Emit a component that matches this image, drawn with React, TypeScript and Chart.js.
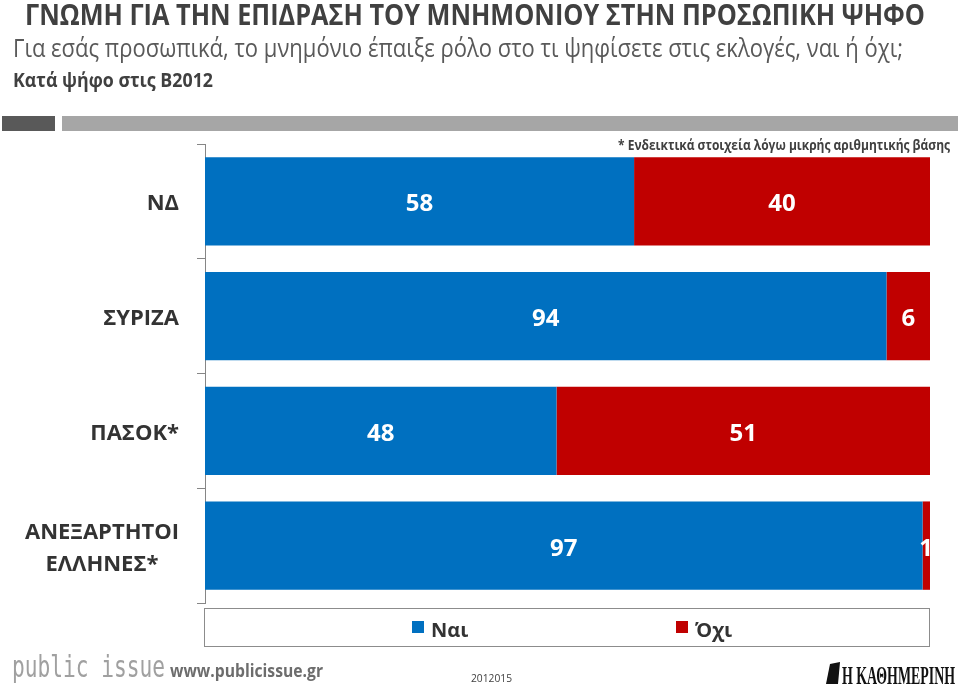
import React, { useEffect, useRef } from "react";
import { Chart, registerables } from "chart.js";

Chart.register(...registerables);

const categories: string[][] = [["ΝΔ"], ["ΣΥΡΙΖΑ"], ["ΠΑΣΟΚ*"], ["ΑΝΕΞΑΡΤΗΤΟΙ", "ΕΛΛΗΝΕΣ*"]];
const yesValues = [58, 94, 48, 97];
const noValues = [40, 6, 51, 1];
const seriesNames = ["Ναι", "Όχι"];
const seriesColors = ["#0070C0", "#C00000"];

const titleText = "ΓΝΩΜΗ ΓΙΑ ΤΗΝ ΕΠΙΔΡΑΣΗ ΤΟΥ ΜΝΗΜΟΝΙΟΥ ΣΤΗΝ ΠΡΟΣΩΠΙΚΗ ΨΗΦΟ";
const subtitleText = "Για εσάς προσωπικά, το μνημόνιο έπαιξε ρόλο στο τι ψηφίσετε στις εκλογές, ναι ή όχι;";
const subsetText = "Κατά ψήφο στις Β2012";
const noteText = "* Ενδεικτικά στοιχεία λόγω μικρής αριθμητικής βάσης";
const siteText = "www.publicissue.gr";
const codeText = "2012015";
const logoText = "public issue";
const paperText = "Η ΚΑΘΗΜΕΡΙΝΗ";

const FONT = "'Open Sans', 'Noto Sans', sans-serif";

const totals = yesValues.map((v, i) => v + noValues[i]);
const yesShare = yesValues.map((v, i) => (v / totals[i]) * 100);
const noShare = noValues.map((v, i) => (v / totals[i]) * 100);

function fitText(
  ctx: CanvasRenderingContext2D,
  text: string,
  x: number,
  y: number,
  font: string,
  color: string,
  width: number | null,
  align: "left" | "right" | "center" = "left"
) {
  ctx.save();
  ctx.font = font;
  ctx.fillStyle = color;
  ctx.textBaseline = "alphabetic";
  const w = ctx.measureText(text).width;
  const sx = width ? width / w : 1;
  const drawnW = w * sx;
  let left = x;
  if (align === "right") left = x - drawnW;
  if (align === "center") left = x - drawnW / 2;
  ctx.translate(left, y);
  ctx.scale(sx, 1);
  ctx.textAlign = "left";
  ctx.fillText(text, 0, 0);
  ctx.restore();
}

const decorPlugin = {
  id: "decor",
  beforeDraw(chart: any) {
    const ctx: CanvasRenderingContext2D = chart.ctx;
    ctx.save();
    ctx.fillStyle = "#ffffff";
    ctx.fillRect(0, 0, chart.width, chart.height);
    // header
    fitText(ctx, titleText, 25, 25, `bold 28px ${FONT}`, "#404040", 900);
    fitText(ctx, subtitleText, 13, 57, `26px ${FONT}`, "#595959", 890);
    fitText(ctx, subsetText, 13, 87, `bold 20px ${FONT}`, "#404040", 200);
    // gray bars
    ctx.fillStyle = "#595959";
    ctx.fillRect(2, 116, 53, 15);
    ctx.fillStyle = "#a6a6a6";
    ctx.fillRect(62, 116, 896, 15);
    // note
    fitText(ctx, noteText, 950, 150, `bold 15px ${FONT}`, "#404040", 332, "right");
    ctx.restore();
  },
  afterDraw(chart: any) {
    const ctx: CanvasRenderingContext2D = chart.ctx;
    const yScale = chart.scales.y;
    const xScale = chart.scales.x;
    ctx.save();
    // category labels
    categories.forEach((lines, i) => {
      const cy = yScale.getPixelForValue(i);
      const lh = 32;
      const start = cy - ((lines.length - 1) * lh) / 2;
      ctx.font = `bold 22px ${FONT}`;
      const maxW = Math.max(...lines.map((l) => ctx.measureText(l).width));
      const cx = 179 - maxW / 2;
      lines.forEach((l, j) => {
        fitText(ctx, l, cx, start + j * lh + 9, `bold 22px ${FONT}`, "#333333", null, "center");
      });
    });
    // data labels
    chart.data.datasets.forEach((ds: any, di: number) => {
      const meta = chart.getDatasetMeta(di);
      const raw = di === 0 ? yesValues : noValues;
      meta.data.forEach((bar: any, i: number) => {
        const left = Math.min(bar.x, bar.base);
        const right = Math.max(bar.x, bar.base);
        let cx = (left + right) / 2;
        if (right - left < 12) cx = right - 4;
        fitText(ctx, String(raw[i]), cx, bar.y + 10, `bold 24px ${FONT}`, "#ffffff", null, "center");
      });
    });
    // legend box
    const lx = xScale.left - 0.5;
    const lw = xScale.right - xScale.left;
    ctx.strokeStyle = "#8c8c8c";
    ctx.lineWidth = 1;
    ctx.strokeRect(lx, 608.5, lw, 38);
    const legendX = [412, 676];
    seriesNames.forEach((name, i) => {
      ctx.fillStyle = seriesColors[i];
      ctx.fillRect(legendX[i], 621, 12, 12);
      fitText(ctx, name, legendX[i] + 19, 637, `bold 20px ${FONT}`, "#333333", null);
    });
    // footer
    fitText(ctx, logoText, 12, 677, `30px 'DejaVu Sans Mono', monospace`, "#a0a0a0", 153);
    fitText(ctx, siteText, 170, 677, `bold 17px ${FONT}`, "#6d6d6d", 153);
    fitText(ctx, codeText, 471, 682, `11px ${FONT}`, "#404040", 41);
    fitText(ctx, paperText, 842, 684, `bold 26px 'Liberation Serif', serif`, "#111111", 113);
    // small emblem
    ctx.fillStyle = "#111111";
    ctx.beginPath();
    ctx.moveTo(826, 684);
    ctx.lineTo(830, 664);
    ctx.lineTo(840, 662);
    ctx.lineTo(838, 684);
    ctx.closePath();
    ctx.fill();
    ctx.restore();
  },
};

export default function App() {
  const canvasRef = useRef<HTMLCanvasElement | null>(null);

  useEffect(() => {
    if (!canvasRef.current) return;
    const chart = new Chart(canvasRef.current, {
      type: "bar",
      data: {
        labels: categories.map((c) => c.join(" ")),
        datasets: [
          {
            label: seriesNames[0],
            data: yesShare,
            backgroundColor: seriesColors[0],
            barPercentage: 0.77,
            categoryPercentage: 1,
          },
          {
            label: seriesNames[1],
            data: noShare,
            backgroundColor: seriesColors[1],
            barPercentage: 0.77,
            categoryPercentage: 1,
          },
        ],
      },
      options: {
        indexAxis: "y",
        responsive: false,
        animation: false,
        layout: { padding: { top: 144, bottom: 84, right: 30, left: 0 } },
        plugins: {
          legend: { display: false },
          tooltip: { enabled: false },
          title: { display: false },
        },
        scales: {
          x: {
            stacked: true,
            min: 0,
            max: 100,
            display: false,
          },
          y: {
            stacked: true,
            offset: true,
            ticks: { display: false },
            grid: {
              offset: true,
              drawOnChartArea: false,
              drawTicks: true,
              tickLength: 8,
              color: "#868686",
            },
            border: { display: true, color: "#868686", width: 1 },
            afterFit: (scale: any) => {
              scale.width = 205;
            },
          },
        },
      },
      plugins: [decorPlugin],
    } as any);
    return () => chart.destroy();
  }, []);

  return (
    <div style={{ position: "fixed", left: 0, top: 0, width: 960, height: 687, background: "#fff" }}>
      <canvas ref={canvasRef} width={960} height={687} style={{ display: "block" }} />
    </div>
  );
}
